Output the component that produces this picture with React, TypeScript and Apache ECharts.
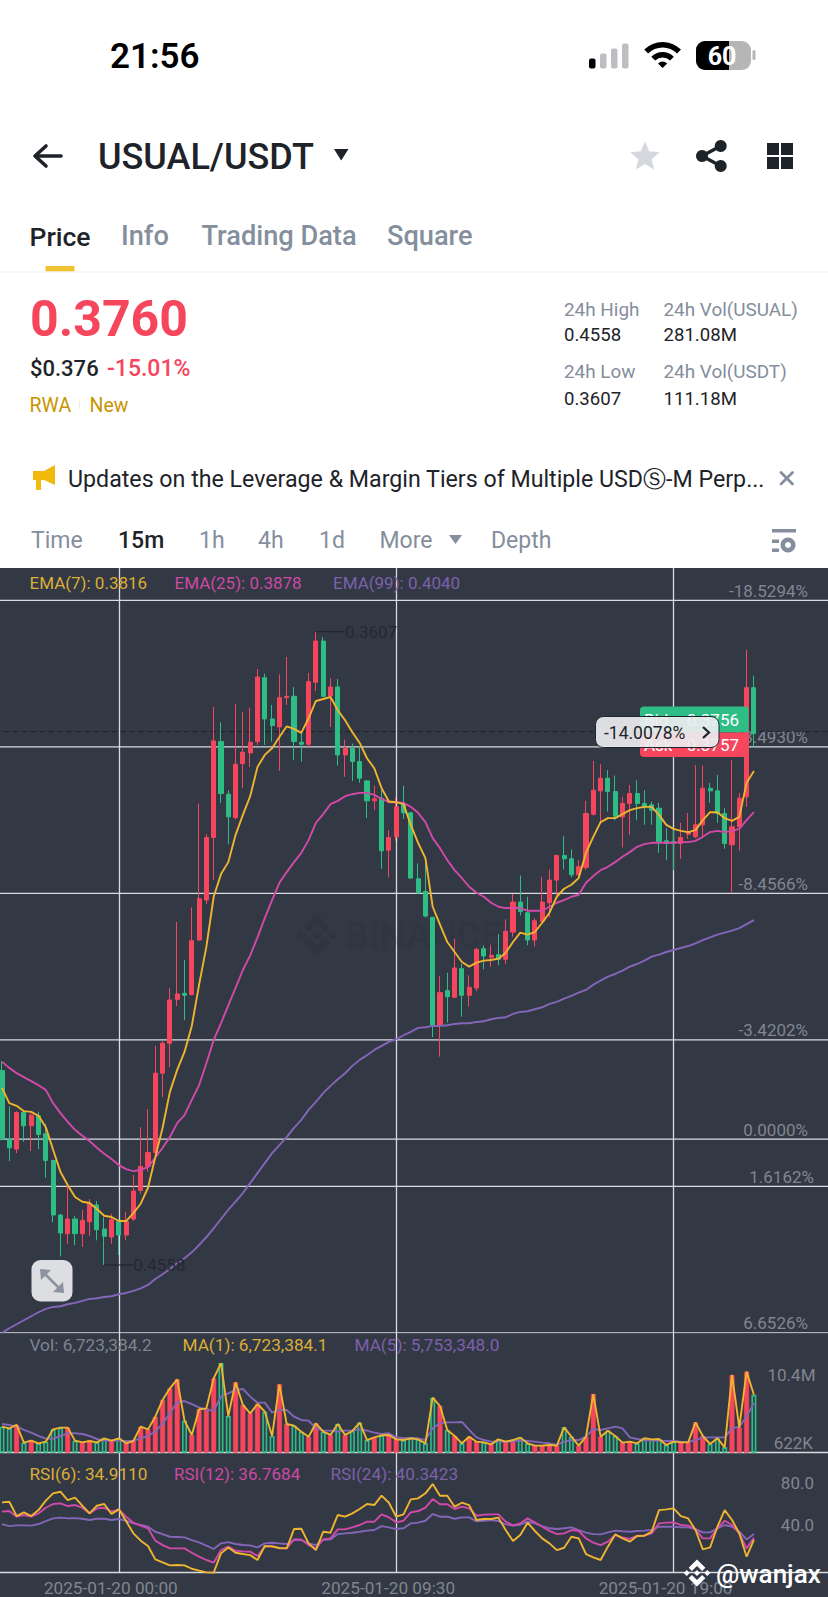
import React, { useEffect, useRef } from "react";
import * as echarts from "echarts";

// ---------- data ----------
const candleOpen = [.4266,.4369,.4384,.4329,.4349,.4334,.4361,.4401,.4483,.4511,.4489,.4511,.4493,.4468,.4504,.4516,.4493,.4513,.4489,.4446,.4410,.4389,.4270,.4225,.4159,.4150,.4152,.4070,.4010,.3916,.3772,.3851,.3886,.3805,.3789,.3772,.3676,.3738,.3750,.3706,.3704,.3773,.3776,.3683,.3621,.3703,.3690,.3792,.3782,.3802,.3831,.3861,.3857,.3935,.3915,.3865,.3879,.3978,.3997,.4036,.4198,.4146,.4156,.4113,.4153,.4142,.4083,.4096,.4092,.4099,.4058,.4013,.4029,.4070,.4042,.4014,.3980,.3943,.3948,.3972,.3961,.3881,.3846,.3827,.3847,.3885,.3865,.3850,.3865,.3867,.3872,.3921,.3922,.3925,.3911,.3915,.3897,.3842,.3846,.3880,.3927,.3900,.3855,.3691];
const candleClose = [.4369,.4382,.4329,.4349,.4333,.4362,.4401,.4483,.4510,.4489,.4511,.4491,.4466,.4505,.4515,.4490,.4513,.4493,.4447,.4410,.4389,.4270,.4225,.4160,.4151,.4153,.4071,.4008,.3916,.3771,.3850,.3885,.3806,.3788,.3773,.3675,.3738,.3748,.3706,.3704,.3772,.3776,.3682,.3621,.3704,.3690,.3792,.3782,.3802,.3827,.3861,.3858,.3936,.3916,.3870,.3879,.3977,.3999,.4034,.4198,.4149,.4155,.4112,.4153,.4141,.4084,.4094,.4093,.4099,.4057,.4013,.4027,.4070,.4041,.4013,.3980,.3943,.3948,.3972,.3960,.3880,.3845,.3827,.3847,.3884,.3865,.3850,.3865,.3870,.3875,.3922,.3925,.3925,.3916,.3907,.3897,.3842,.3846,.3880,.3925,.3900,.3857,.3691,.3760];
const candleLow = [.4252,.4320,.4327,.4325,.4330,.4328,.4346,.4400,.4481,.4438,.4484,.4475,.4459,.4462,.4486,.4481,.4490,.4478,.4423,.4351,.4324,.4229,.4222,.4142,.4043,.4100,.4021,.3865,.3911,.3720,.3743,.3845,.3716,.3727,.3721,.3663,.3670,.3717,.3671,.3645,.3690,.3757,.3669,.3607,.3615,.3677,.3678,.3769,.3775,.3780,.3830,.3838,.3845,.3905,.3856,.3838,.3878,.3955,.3947,.4035,.4124,.4119,.4068,.4106,.4123,.4082,.4078,.4077,.4061,.4039,.4001,.3973,.4005,.4037,.3975,.3964,.3942,.3914,.3934,.3950,.3861,.3801,.3806,.3815,.3823,.3855,.3837,.3830,.3845,.3862,.3864,.3902,.3905,.3894,.3879,.3807,.3808,.3834,.3822,.3872,.3800,.3849,.3634,.3673];
const candleHigh = [.4371,.4402,.4390,.4373,.4387,.4384,.4427,.4494,.4545,.4526,.4528,.4531,.4514,.4521,.4558,.4526,.4543,.4521,.4492,.4451,.4418,.4392,.4306,.4261,.4169,.4190,.4153,.4071,.4016,.3980,.3864,.3926,.3889,.3842,.3810,.3777,.3777,.3772,.3816,.3717,.3800,.3802,.3780,.3696,.3705,.3750,.3808,.3825,.3831,.3834,.3887,.3875,.3963,.3976,.3921,.3888,.3978,.4000,.4036,.4216,.4245,.4194,.4157,.4185,.4170,.4147,.4114,.4110,.4108,.4106,.4065,.4033,.4078,.4080,.4044,.4036,.4003,.3964,.3976,.3977,.3965,.3883,.3895,.3877,.3890,.3931,.3912,.3890,.3897,.3897,.3939,.3950,.3965,.3948,.3918,.3917,.3915,.3864,.3894,.3933,.3999,.3936,.3870,.3780];
const ema7 = [.4292,.4315,.4319,.4327,.4328,.4334,.4351,.4385,.4418,.4438,.4456,.4463,.4465,.4474,.4484,.4486,.4492,.4492,.4480,.4466,.4442,.4396,.4352,.4298,.4265,.4238,.4199,.4137,.4080,.4005,.3971,.3953,.3912,.3882,.3854,.3810,.3792,.3782,.3765,.3749,.3753,.3759,.3737,.3711,.3708,.3705,.3725,.3740,.3758,.3774,.3797,.3812,.3842,.3862,.3863,.3866,.3897,.3924,.3947,.4020,.4047,.4073,.4088,.4103,.4110,.4104,.4101,.4100,.4098,.4089,.4073,.4059,.4062,.4058,.4044,.4029,.4005,.3993,.3987,.3977,.3939,.3915,.3893,.3887,.3887,.3881,.3875,.3872,.3870,.3870,.3882,.3897,.3903,.3906,.3908,.3905,.3890,.3878,.3878,.3887,.3891,.3885,.3834,.3816];
const ema25 = [.4253,.4262,.4270,.4276,.4282,.4288,.4295,.4315,.4330,.4343,.4355,.4364,.4372,.4382,.4391,.4399,.4408,.4414,.4417,.4415,.4411,.4397,.4382,.4366,.4345,.4333,.4310,.4288,.4255,.4220,.4195,.4168,.4142,.4115,.4093,.4066,.4037,.4010,.3984,.3968,.3953,.3939,.3920,.3894,.3881,.3866,.3861,.3854,.3851,.3849,.3849,.3852,.3858,.3863,.3863,.3864,.3870,.3879,.3893,.3917,.3932,.3950,.3965,.3977,.3990,.3999,.4005,.4014,.4020,.4022,.4022,.4022,.4026,.4026,.4026,.4020,.4014,.4010,.4005,.4002,.3984,.3974,.3965,.3960,.3953,.3945,.3938,.3930,.3926,.3924,.3924,.3924,.3924,.3923,.3923,.3921,.3915,.3908,.3906,.3908,.3906,.3903,.3890,.3878];
const ema99 = [.4660,.4653,.4647,.4641,.4635,.4629,.4624,.4621,.4620,.4617,.4615,.4612,.4609,.4608,.4606,.4605,.4602,.4600,.4597,.4593,.4588,.4579,.4572,.4564,.4555,.4548,.4539,.4528,.4516,.4503,.4489,.4475,.4463,.4450,.4435,.4420,.4405,.4390,.4378,.4366,.4352,.4340,.4325,.4313,.4300,.4289,.4279,.4270,.4259,.4250,.4243,.4235,.4229,.4223,.4219,.4213,.4208,.4202,.4201,.4199,.4199,.4198,.4196,.4195,.4195,.4193,.4192,.4189,.4187,.4186,.4181,.4178,.4177,.4174,.4171,.4166,.4163,.4158,.4154,.4149,.4145,.4137,.4131,.4125,.4121,.4116,.4110,.4106,.4101,.4095,.4092,.4088,.4085,.4082,.4079,.4075,.4070,.4066,.4062,.4059,.4056,.4052,.4046,.4040];
const volumeMillions = [3.02,2.83,3.22,1.17,1.40,1.09,1.28,2.71,2.91,2.91,1.40,1.20,1.36,1.20,1.67,1.40,1.67,1.09,1.36,3.02,2.71,4.18,6.12,7.47,8.52,3.72,2.06,5.04,5.15,8.63,10.4,4.26,8.17,5.54,4.57,5.65,4.76,1.94,7.94,3.33,3.14,2.44,1.86,3.41,2.44,2.06,3.33,2.06,2.52,3.49,1.47,1.78,2.02,2.06,1.55,1.47,1.67,1.55,1.09,6.39,5.42,2.64,1.94,1.09,1.86,1.28,1.20,.97,1.55,1.28,1.47,1.75,1.09,.82,.82,.90,.82,2.95,1.86,.82,1.86,6.81,1.86,2.56,1.94,1.17,1.28,1.09,1.67,1.55,1.59,.90,1.28,1.20,1.20,3.52,1.94,1.01,1.67,.622,9.02,2.91,9.41,6.7234];
const volumeMa5 = [3.33,3.22,3.02,2.64,2.33,1.94,1.63,1.63,1.94,2.25,2.25,2.17,1.94,1.59,1.40,1.40,1.40,1.36,1.40,1.67,1.94,2.44,3.41,4.57,5.85,6.00,5.65,5.27,4.96,4.88,6.51,6.89,7.28,7.40,6.51,5.81,5.81,4.65,4.96,4.96,4.18,3.80,3.72,2.83,2.56,2.56,2.44,2.56,2.56,2.71,2.56,2.33,2.17,2.25,1.78,1.67,1.71,1.67,1.47,2.83,3.41,3.52,3.52,3.57,2.64,1.78,1.47,1.28,1.28,1.28,1.28,1.44,1.36,1.28,1.17,1.09,.90,1.28,1.44,1.47,1.86,2.75,2.64,2.83,3.02,2.83,1.78,1.59,1.47,1.40,1.40,1.36,1.36,1.28,1.24,1.47,1.75,1.78,1.78,1.78,2.83,3.02,4.18,5.7533];
const rsi6 = [70.0,70.6,57.2,60.6,57.2,62.8,71.6,78.5,80.0,72.2,74.4,66.9,59.7,66.9,68.5,59.1,63.5,52.5,41.0,34.1,29.1,16.6,13.8,11.0,11.3,11.0,7.8,6.0,4.4,4.1,22.2,27.8,22.8,21.6,20.6,16.0,29.1,28.5,27.2,26.9,45.0,45.3,31.6,25.3,42.5,41.6,58.2,56.6,59.7,63.8,68.5,67.5,76.3,69.7,56.6,58.8,72.8,73.8,78.5,87.2,76.3,76.3,66.0,69.7,67.5,53.5,54.4,54.4,55.7,44.1,33.8,39.4,51.0,43.2,36.3,31.6,25.3,27.5,37.8,36.3,21.6,18.5,16.0,28.5,40.0,36.3,33.2,38.5,38.8,42.5,62.8,63.5,64.4,57.2,55.0,44.1,26.0,27.8,47.2,62.8,53.5,41.0,19.1,34.91];
const rsi12 = [61.3,61.9,56.6,58.2,56.6,59.7,65.0,68.5,69.1,66.6,67.5,65.0,59.7,64.4,65.0,61.3,63.5,56.6,51.0,48.2,45.7,34.1,30.0,26.9,26.9,26.9,22.8,19.1,16.0,13.5,25.3,28.5,24.7,24.1,23.8,19.7,28.5,29.4,26.9,26.9,35.3,35.3,30.0,26.9,35.3,36.3,44.7,44.7,46.6,48.8,51.9,51.9,58.8,56.0,51.3,52.8,60.6,61.9,65.0,73.1,68.2,68.2,63.8,66.0,64.4,57.5,58.5,58.8,58.8,51.9,48.5,50.3,55.0,51.3,47.2,43.2,40.3,41.0,44.1,43.2,36.3,32.2,30.0,33.2,39.4,37.2,35.7,38.8,38.8,41.0,50.3,51.0,51.3,48.8,48.2,45.0,36.3,36.3,45.7,52.8,48.8,41.0,26.9,36.77];
const rsi24 = [49.7,47.8,48.5,48.5,48.2,49.7,52.5,55.0,55.7,55.0,55.3,54.7,53.5,54.7,54.7,53.5,54.4,52.8,50.3,48.8,47.2,42.5,40.3,37.8,37.5,37.2,34.7,32.5,29.4,26.3,31.6,32.8,31.0,30.0,29.7,27.8,31.6,32.2,31.6,31.0,34.7,34.7,31.6,30.0,34.7,35.3,40.3,41.0,41.6,42.5,43.5,44.1,47.8,46.6,45.0,45.7,50.3,51.0,52.8,59.1,56.6,56.6,54.7,56.0,56.0,52.2,52.8,53.5,52.5,49.4,48.2,49.1,51.9,50.3,47.8,45.7,45.0,45.7,46.6,44.1,41.6,40.3,40.0,41.9,43.5,42.9,42.5,43.2,43.5,44.1,47.2,47.2,47.2,46.6,46.6,45.0,41.9,41.9,45.7,48.8,47.2,42.5,35.3,40.34];

// Drawn retracement levels (price) with their right-hand percentages
const levelPrices = [.3560, .3780, .4000, .4220, .4369, .4440, .4660];
const levelLabels = ["-18.5294%", "-13.4930%", "-8.4566%", "-3.4202%", "0.0000%", "1.6162%", "6.6526%"];
const lastTagPrice = .3757;
const rsiTicks = [80, 40];
const timeStartMs = Date.UTC(2025, 0, 19, 19, 45);
const slotCount = 116;
const tickEvery = 38;
const firstTickSlot = 17;

// ---------- helpers ----------
const pad2 = (n: number) => String(n).padStart(2, "0");
const categories = Array.from({ length: slotCount }, (_, i) => {
  const d = new Date(timeStartMs + i * 900000);
  return `${d.getUTCFullYear()}-${pad2(d.getUTCMonth() + 1)}-${pad2(d.getUTCDate())} ${pad2(d.getUTCHours())}:${pad2(d.getUTCMinutes())}`;
});
const withGap = (a: number[]) => [null as any, ...a];
const isTick = (i: number) => (i - firstTickSlot) % tickEvery === 0 && i >= firstTickSlot;

const GREEN = "#2ebd85";
const RED = "#f6465d";
const PANEL = "#333845";
const GRIDLINE = "#d9dbe0";
const YEL = "#efb52f";
const PINK = "#d24aa9";
const PUR = "#8466b8";
const DARK = "#1e2329";
const GRAY = "#848e9c";
const AXGRAY = "#80868f";
const FONT = "Roboto";

function T(text: string, x: number, y: number, size: number, fill: string, o: any = {}) {
  return {
    type: "text", x, y, z: o.z ?? 60, silent: true,
    style: {
      text, fill, fontSize: size, fontFamily: o.font ?? FONT, fontWeight: o.weight ?? 400,
      align: o.align ?? "left", verticalAlign: "middle", opacity: o.opacity ?? 1,
    },
  };
}
const R = (x: number, y: number, w: number, h: number, fill: string, r: any = 0, z = 60, extra: any = {}) => ({
  type: "rect", z, silent: true, shape: { x, y, width: w, height: h, r }, style: { fill, ...extra },
});
const P = (points: number[][], fill: string, z = 60) => ({ type: "polygon", z, silent: true, shape: { points }, style: { fill } });
const L = (x1: number, y1: number, x2: number, y2: number, stroke: string, w: number, z = 60) => ({
  type: "line", z, silent: true, shape: { x1, y1, x2, y2 }, style: { stroke, lineWidth: w, lineCap: "round" },
});
function logo(cx: number, cy: number, r: number, fill: string, z: number) {
  const d = (x: number, y: number, s: number) => P([[x, y - s], [x + s, y], [x, y + s], [x - s, y]], fill, z);
  const top = [[0, -1], [.62, -.38], [.38, -.14], [0, -.52], [-.38, -.14], [-.62, -.38]];
  return [
    d(cx, cy, r * .22), d(cx - r * .76, cy, r * .22), d(cx + r * .76, cy, r * .22),
    P(top.map(([a, b]) => [cx + a * r, cy + b * r]), fill, z),
    P(top.map(([a, b]) => [cx + a * r, cy - b * r]), fill, z),
  ];
}

function chromeGraphics() {
  const g: any[] = [];
  g.push(R(0, 568, 828, 1029, PANEL, 0, -10));
  // status bar
  g.push(T("21:56", 110, 56, 35, "#000000", { weight: 600 }));
  [[589, 10, "#000"], [600, 15, "#bcbec2"], [611, 20, "#bcbec2"], [622, 25, "#bcbec2"]].forEach(([x, h, c]: any) =>
    g.push(R(x, 68.5 - h, 6.5, h, c, 2)));
  const wa = -Math.PI * .75, wb = -Math.PI * .25;
  [[26, 20.5], [16, 10.5], [6.5, 0]].forEach(([r, r0]) =>
    g.push({ type: "sector", z: 60, silent: true, shape: { cx: 662.6, cy: 68, r, r0, startAngle: wa, endAngle: wb, clockwise: true }, style: { fill: "#000" } }));
  g.push(R(696, 41, 55, 29, "#b6b6b6", 9));
  g.push(R(696, 41, 33, 29, "#000", [9, 0, 0, 9]));
  g.push(R(752.5, 50, 3, 10, "#b6b6b6", 1.5));
  g.push(T("60", 722, 56, 25, "#fff", { weight: 700, align: "center" }));
  // title row
  g.push(L(36, 156, 61, 156, DARK, 3.6));
  g.push({ type: "polyline", z: 60, silent: true, shape: { points: [[46, 146], [35, 156], [46, 166]] }, style: { stroke: DARK, lineWidth: 3.6, fill: "none", lineCap: "round", lineJoin: "round" } });
  g.push(T("USUAL/USDT", 98, 157, 36, DARK, { weight: 500 }));
  g.push(P([[334, 149], [348.5, 149], [341.2, 160.5]], DARK));
  const star: number[][] = [];
  for (let i = 0; i < 10; i++) {
    const r = i % 2 ? 7 : 15.5, a = -Math.PI / 2 + i * Math.PI / 5;
    star.push([645 + r * Math.cos(a), 157 + r * Math.sin(a)]);
  }
  g.push(P(star, "#d5d8dc"));
  g.push(L(720.7, 146, 702, 156, DARK, 3.6), L(702, 156, 720.7, 166, DARK, 3.6));
  [[720.7, 146], [702, 156], [720.7, 166]].forEach(([cx, cy]) =>
    g.push({ type: "circle", z: 60, silent: true, shape: { cx, cy, r: 6 }, style: { fill: DARK } }));
  [[767, 143], [781, 143], [767, 157], [781, 157]].forEach(([x, y]) => g.push(R(x, y, 12, 12, DARK)));
  // tabs
  g.push(T("Price", 29.5, 236, 26.5, DARK, { weight: 500 }));
  g.push(T("Info", 121, 236, 27.2, GRAY, { weight: 500 }));
  g.push(T("Trading Data", 201.5, 236, 27.2, GRAY, { weight: 500 }));
  g.push(T("Square", 387, 236, 27.2, GRAY, { weight: 500 }));
  g.push(R(45.5, 266, 29, 5.5, "#f0c230"));
  g.push(R(0, 271.5, 828, 1, "#eef0f2"));
  // price block
  g.push(T("0.3760", 30, 319, 50, RED, { weight: 700 }));
  g.push(T("$0.376", 30, 368.5, 22, DARK, { weight: 500 }));
  g.push(T("-15.01%", 107, 368.5, 23, RED, { weight: 500 }));
  g.push(T("RWA", 29.5, 405, 19.5, "#c99400"));
  g.push(R(79, 401, 1, 8, "#e6e8ea"));
  g.push(T("New", 89.5, 405, 19.5, "#c99400"));
  g.push(T("24h High", 564, 309, 18.9, GRAY));
  g.push(T("0.4558", 564, 335, 18.6, DARK));
  g.push(T("24h Low", 564, 371.5, 18.9, GRAY));
  g.push(T("0.3607", 564, 398.5, 18.6, DARK));
  g.push(T("24h Vol(USUAL)", 663.5, 309, 18.9, GRAY));
  g.push(T("281.08M", 663.5, 335, 18.6, DARK));
  g.push(T("24h Vol(USDT)", 663.5, 371.5, 18.9, GRAY));
  g.push(T("111.18M", 663.5, 398.5, 18.6, DARK));
  // notice
  g.push(P([[33, 471], [44, 471], [55, 465], [55, 485], [44, 480], [41, 480], [41, 490], [36, 490], [36, 480], [33, 480]], "#f0b90b"));
  g.push(T("Updates on the Leverage & Margin Tiers of Multiple USD\u24C8-M Perp...", 68, 479, 23.2, DARK));
  g.push(L(781, 472.5, 792.5, 484, GRAY, 2.8), L(792.5, 472.5, 781, 484, GRAY, 2.8));
  // interval row
  g.push(T("Time", 31, 540.5, 23, GRAY));
  g.push(T("15m", 118, 540.5, 23, DARK, { weight: 500 }));
  g.push(T("1h", 199, 540.5, 23, GRAY));
  g.push(T("4h", 258, 540.5, 23, GRAY));
  g.push(T("1d", 319, 540.5, 23, GRAY));
  g.push(T("More", 379.5, 540.5, 23, GRAY));
  g.push(P([[449, 535], [462, 535], [455.5, 544]], GRAY));
  g.push(T("Depth", 491, 540.5, 23, GRAY));
  g.push(R(772, 529, 24, 3.5, GRAY), R(772, 539.5, 7, 3.5, GRAY), R(772, 548.5, 7, 3.5, GRAY));
  g.push({ type: "ring", z: 60, silent: true, shape: { cx: 788, cy: 545, r: 7.5, r0: 3 }, style: { fill: GRAY } });
  // legends
  g.push(T("EMA(7): 0.3816", 29.5, 583, 17, "#dcae37", { z: 20 }));
  g.push(T("EMA(25): 0.3878", 174.5, 583, 17, "#cb4aa3", { z: 20 }));
  g.push(T("EMA(99): 0.4040", 333, 583, 17, "#7c61aa", { z: 20 }));
  g.push(T("Vol: 6,723,384.2", 29.5, 1345, 17.3, "#7d8491", { z: 20 }));
  g.push(T("MA(1): 6,723,384.1", 182.5, 1345, 17.2, "#dcae37", { z: 20 }));
  g.push(T("MA(5): 5,753,348.0", 354.5, 1345, 17.2, "#7c61aa", { z: 20 }));
  g.push(T("RSI(6): 34.9110", 29.5, 1474, 17.2, "#dcae37", { z: 20 }));
  g.push(T("RSI(12): 36.7684", 174, 1474, 17, "#cb4aa3", { z: 20 }));
  g.push(T("RSI(24): 40.3423", 330.5, 1474, 17.2, "#7c61aa", { z: 20 }));
  g.push(T("10.4M", 815.5, 1375, 17, AXGRAY, { align: "right", z: 20 }));
  g.push(T("622K", 813, 1443, 17, AXGRAY, { align: "right", z: 20 }));
  // watermark
  logo(317, 935, 21, "rgba(20,24,32,0.10)", 1).forEach((e) => g.push(e));
  g.push(T("BINANCE", 345, 935, 37, "rgba(20,24,32,0.10)", { weight: 700, z: 1 }));
  // bid / ask box and tag
  g.push(R(640, 706.5, 108.5, 26, GREEN, [4, 4, 0, 0], 100));
  g.push(R(640, 732.5, 108.5, 24.5, RED, [0, 0, 4, 4], 100));
  g.push(T("Bid", 644, 720, 17, "#fff", { z: 101 }));
  g.push(T("0.3756", 739, 720, 17, "#fff", { align: "right", z: 101 }));
  g.push(T("Ask", 644, 745, 17, "#fff", { z: 101 }));
  g.push(T("0.3757", 739, 745, 17, "#fff", { align: "right", z: 101 }));
  g.push(R(595.5, 716.5, 123.5, 31, "rgba(236,237,239,0.92)", 8, 102, { stroke: "#1f2430", lineWidth: 1 }));
  g.push(T("-14.0078%", 604, 733, 17.5, DARK, { z: 103 }));
  g.push({ type: "polyline", z: 103, silent: true, shape: { points: [[703, 727], [709, 732.5], [703, 738]] }, style: { stroke: DARK, lineWidth: 2.2, fill: "none" } });
  // expand button
  g.push(R(31.5, 1260, 41, 41.5, "#dcdee1", 9, 100));
  g.push(L(45, 1274, 59, 1288, "#8b93a0", 2.6, 101));
  g.push(P([[40, 1269], [51, 1270], [41, 1280]], "#8b93a0", 101));
  g.push(P([[64, 1293], [53, 1292], [63, 1282]], "#8b93a0", 101));
  // author mark
  logo(697, 1573, 13.5, "#ffffff", 110).forEach((e) => g.push(e));
  g.push(T("@wanjax", 716, 1574, 26, "#ffffff", { weight: 500, z: 110 }));
  return g;
}

export default function App() {
  const ref = useRef<HTMLDivElement>(null);
  useEffect(() => {
    document.body.style.margin = "0";
    document.body.style.background = "#fff";
    const chart = echarts.init(ref.current!, undefined, { renderer: "svg", width: 828, height: 1597 });
    const splitLine = { show: true, interval: (i: number) => isTick(i), lineStyle: { color: GRIDLINE, width: 1.3 } };
    const xBase = { type: "category", data: categories, boundaryGap: false, axisTick: { show: false }, splitLine };
    const line = (name: string, data: number[], color: string, x: number, width = 1.9) => ({
      name, type: "line", data: withGap(data), xAxisIndex: x, yAxisIndex: x, symbol: "none", showSymbol: false,
      lineStyle: { color, width }, itemStyle: { color }, z: 3, silent: true,
    });
    const levelLine = (value: number, lineStyle: any) => ({
      type: "line", xAxisIndex: 0, yAxisIndex: 0, symbol: "none", showSymbol: false, silent: true, z: 1,
      data: categories.map(() => value), lineStyle,
    });
    const volItems = volumeMillions.map((v, i) => {
      const up = candleClose[i] >= candleOpen[i];
      return {
        value: v,
        itemStyle: up
          ? { color: "#33464f", borderColor: GREEN, borderWidth: 1.6 }
          : { color: RED, borderColor: RED, borderWidth: .5 },
      };
    });
    const gridBox = { left: -5.3, width: 839.5, outerBoundsMode: "none" };
    chart.setOption({
      animation: false,
      backgroundColor: "#ffffff",
      tooltip: { show: false },
      grid: [
        { ...gridBox, top: 568, height: 764.7 },
        { ...gridBox, top: 1332.7, height: 120 },
        { ...gridBox, top: 1452.7, height: 120 },
      ],
      xAxis: [
        { ...xBase, gridIndex: 0, axisLine: { show: false }, axisLabel: { show: false } },
        { ...xBase, gridIndex: 1, axisLine: { show: true, lineStyle: { color: GRIDLINE, width: 1.3 } }, axisLabel: { show: false } },
        {
          ...xBase, gridIndex: 2,
          axisLine: { show: true, lineStyle: { color: GRIDLINE, width: 1.3 } },
          axisLabel: {
            show: true, interval: (i: number) => isTick(i), color: AXGRAY, fontFamily: FONT, fontSize: 17.2, margin: 7,
            padding: [0, 16, 0, 0],
          },
        },
      ],
      yAxis: [
        { type: "value", gridIndex: 0, inverse: true, min: .35113, max: .46597, show: false, splitLine: { show: false } },
        { type: "value", gridIndex: 1, min: 0, max: 13.93, show: false, splitLine: { show: false } },
        { type: "value", gridIndex: 2, min: 4.09, max: 116.59, show: false, splitLine: { show: false } },
      ],
      series: [
        ...levelPrices.map((v) => levelLine(v, { color: GRIDLINE, width: 1.3 })),
        levelLine(lastTagPrice, { color: "#1c2029", width: 1, type: [5, 4] }),
        {
          name: "USUAL/USDT", type: "candlestick", xAxisIndex: 0, yAxisIndex: 0, z: 2, barWidth: 4.6, silent: true,
          clip: false,
          data: withGap([]).concat(candleOpen.map((o, i) => [o, candleClose[i], candleLow[i], candleHigh[i]])).map((v: any) => v ?? [null, null, null, null]),
          itemStyle: { color: GREEN, color0: RED, borderColor: GREEN, borderColor0: RED, borderWidth: 1 },
        },
        line("EMA(99)", ema99, PUR, 0),
        line("EMA(25)", ema25, PINK, 0),
        line("EMA(7)", ema7, YEL, 0),
        { name: "Vol", type: "bar", xAxisIndex: 1, yAxisIndex: 1, barWidth: 5, data: withGap([]).concat(volItems), z: 2, silent: true },
        line("MA(5)", volumeMa5, PUR, 1),
        line("MA(1)", volumeMillions, YEL, 1),
        line("RSI(24)", rsi24, PUR, 2),
        line("RSI(12)", rsi12, PINK, 2),
        line("RSI(6)", rsi6, YEL, 2),
      ],
    });

    // Labels tied to axis values, placed through the axes' own scales
    const yPrice = (p: number) => chart.convertToPixel({ yAxisIndex: 0 }, p) as number;
    const xSlot = (i: number) => chart.convertToPixel({ xAxisIndex: 0 }, i) as number;
    const overlay: any[] = chromeGraphics();
    levelLabels.forEach((label, i) => {
      overlay.push(T(label, label === "1.6162%" ? 814 : 808, yPrice(levelPrices[i]) - 9.5, 17, AXGRAY, { align: "right", z: 1 }));
    });
    rsiTicks.forEach((v) => {
      overlay.push(T(v.toFixed(1), 814, (chart.convertToPixel({ yAxisIndex: 2 }, v) as number) - 9, 17, AXGRAY, { align: "right", z: 20 }));
    });
    const hiIdx = candleLow.indexOf(Math.min(...candleLow));
    const loIdx = candleHigh.indexOf(Math.max(...candleHigh));
    const xa = xSlot(hiIdx + 1), ya = yPrice(candleLow[hiIdx]);
    overlay.push(L(xa, ya, xa + 28, ya, "#1c2029", 1, 30));
    overlay.push(T(candleLow[hiIdx].toFixed(4), xa + 29, ya + .5, 17, "#232833", { z: 30 }));
    const xb = xSlot(loIdx + 1), yb = yPrice(candleHigh[loIdx]);
    overlay.push(L(xb, yb, xb + 28, yb, "#1c2029", 1, 30));
    overlay.push(T(candleHigh[loIdx].toFixed(4), xb + 29, yb + .5, 17, "#232833", { z: 30 }));
    chart.setOption({ graphic: overlay });
    return () => chart.dispose();
  }, []);
  return <div ref={ref} style={{ width: 828, height: 1597, overflow: "hidden" }} />;
}
